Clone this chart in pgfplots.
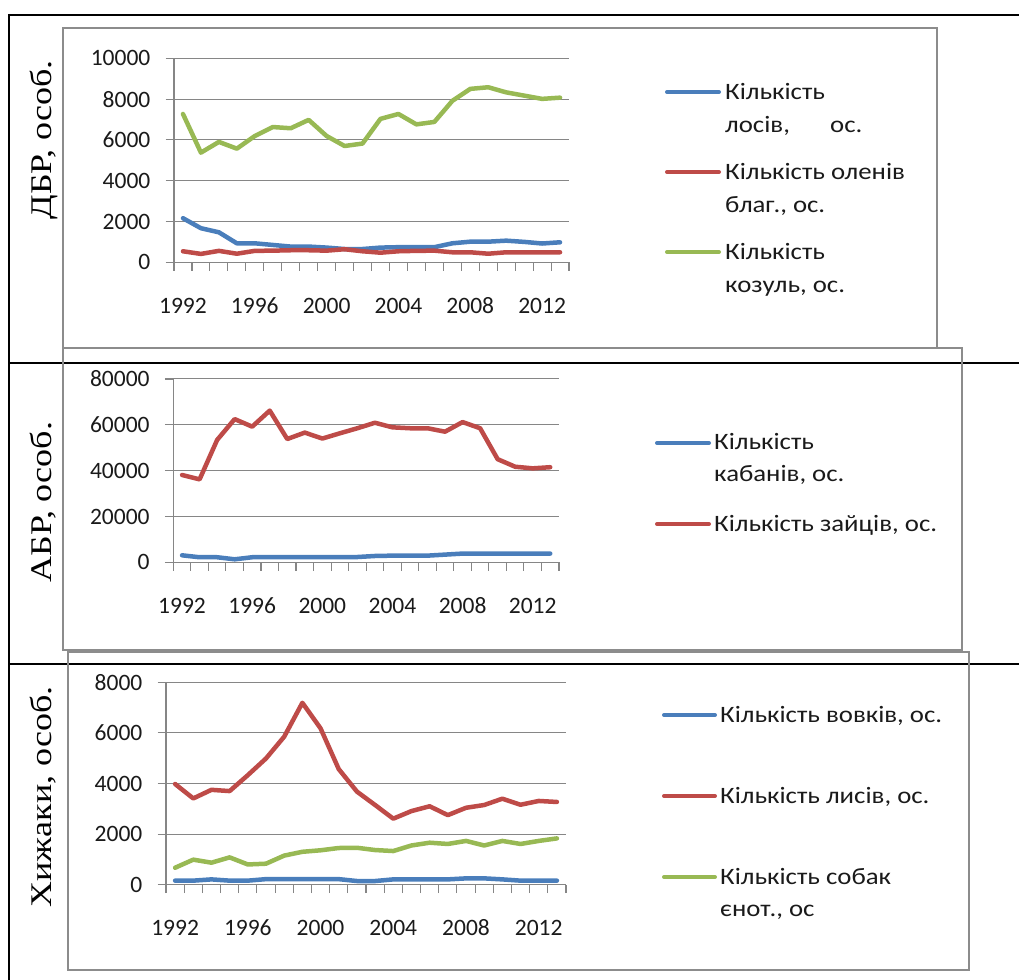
\documentclass[border=0pt]{standalone}
\usepackage{fontspec}
\setmainfont{Carlito}
\newfontfamily\serifcyr{Liberation Serif}
\usepackage{pgfplots}
\usepackage{pgfplotstable}
\pgfplotsset{compat=1.18}
\definecolor{cblue}{HTML}{4A7EBB}
\definecolor{cred}{HTML}{BE4B48}
\definecolor{cgreen}{HTML}{98B954}
\definecolor{axgray}{HTML}{868686}
\definecolor{frgray}{HTML}{8C8C8C}
\definecolor{txt}{HTML}{1A1A1A}

\pgfplotstableread{
year los olen koz
1992 2160 540 7270
1993 1670 410 5375
1994 1470 560 5900
1995 930 420 5570
1996 930 560 6190
1997 850 570 6630
1998 770 590 6570
1999 770 590 6980
2000 720 570 6190
2001 650 640 5700
2002 650 540 5820
2003 720 470 7030
2004 740 540 7270
2005 740 560 6760
2006 740 570 6880
2007 930 490 7910
2008 1010 490 8500
2009 1010 420 8580
2010 1060 490 8330
2011 1000 490 8170
2012 920 490 8010
2013 980 490 8070
}\tA

\pgfplotstableread{
year kab zay
1992 3050 38100
1993 2200 36200
1994 2200 53400
1995 1300 62500
1996 2200 59200
1997 2300 66200
1998 2300 53800
1999 2300 56600
2000 2300 54000
2001 2300 56300
2002 2300 58500
2003 2750 60900
2004 2900 58900
2005 2900 58500
2006 2900 58500
2007 3350 57000
2008 3800 61200
2009 3800 58500
2010 3800 45000
2011 3800 41700
2012 3800 41000
2013 3800 41500
}\tB

\pgfplotstableread{
year vov lys sob
1992 160 3980 670
1993 160 3410 990
1994 210 3750 870
1995 160 3700 1080
1996 160 4330 800
1997 220 4990 830
1998 220 5850 1150
1999 220 7190 1300
2000 220 6180 1360
2001 220 4570 1450
2002 145 3680 1460
2003 145 3150 1370
2004 210 2610 1330
2005 210 2910 1550
2006 210 3100 1660
2007 210 2750 1610
2008 250 3040 1730
2009 250 3150 1550
2010 210 3400 1730
2011 160 3160 1610
2012 160 3310 1730
2013 160 3270 1830
}\tC

\pgfplotsset{
  panel/.style={
    anchor=south west, scale only axis,
    xmin=1991.5, xmax=2013.5, ymin=0,
    axis x line*=bottom, axis y line*=left,
    axis line style={-, draw=axgray, line width=1.3bp},
    xtick={1992,1996,2000,2004,2008,2012},
    minor xtick={1991.5,1992.5,...,2013.5},
    major x tick style={draw=none},
    ymajorgrids, grid style={axgray, line width=1bp},
    tick align=outside, major tick length=8.5bp, minor tick length=8.5bp,
    tick style={axgray, line width=1.1bp},
    scaled y ticks=false,
    /pgf/number format/1000 sep={},
    /pgf/number format/assume math mode=true,
    tick label style={font=\fontsize{23.5bp}{28bp}\selectfont, text=txt},
    yticklabel style={anchor=east, inner sep=0pt, xshift=-15bp},
    xticklabel style={anchor=north, inner sep=0pt, text height=15bp, text depth=0pt, yshift=-27.5bp},
    clip=false,
  },
  dline/.style={line width=4.5bp, line join=round, line cap=round},
}

\newcommand\lgt[1]{\scalebox{1.14}[1]{\fontsize{23.5bp}{32.5bp}\selectfont\color{txt}#1}}
\newcommand\yl[1]{\scalebox{1.2}[1]{\fontsize{30bp}{30bp}\serifcyr #1}}

\begin{document}
\begin{tikzpicture}[x=1bp,y=1bp]
\useasboundingbox (0,0) rectangle (1019,980);
% table lines
\draw[black, line width=2.5bp] (9,965) -- (1019,965);
\draw[black, line width=2.5bp] (9,617) -- (1019,617);
\draw[black, line width=2.5bp] (9,316) -- (1019,316);
\draw[black, line width=2.5bp] (9,966) -- (9,0);
% y labels
\node[rotate=90, anchor=base, inner sep=0pt] at (51,840) {\yl{ДБР, особ.}};
\node[rotate=90, anchor=base, inner sep=0pt] at (51,478) {\yl{АБР, особ.}};
\node[rotate=90, anchor=base, inner sep=0pt] at (51,183) {\yl{Хижаки, особ.}};
% frames
\draw[frgray, line width=2bp] (63,952) rectangle (937,632);
\draw[frgray, line width=2bp] (63,632) rectangle (962,330);
\draw[frgray, line width=2bp] (68,328) rectangle (969,10);

% panel 1
\begin{axis}[panel, at={(174bp,717.7bp)}, width=395bp, height=204bp,
  ymax=10000, ytick={0,2000,...,10000}]
\addplot[cblue, dline] table[x=year, y=los]{\tA};
\addplot[cred, dline] table[x=year, y=olen]{\tA};
\addplot[cgreen, dline] table[x=year, y=koz]{\tA};
\end{axis}

% panel 2
\begin{axis}[panel, at={(173.3bp,417.7bp)}, width=385.7bp, height=183.3bp,
  ymax=80000, ytick={0,20000,...,80000}]
\addplot[cblue, dline] table[x=year, y=kab]{\tB};
\addplot[cred, dline] table[x=year, y=zay]{\tB};
\end{axis}

% panel 3
\begin{axis}[panel, at={(166bp,95.3bp)}, width=400bp, height=202.4bp,
  ymax=8000, ytick={0,2000,...,8000}]
\addplot[cblue, dline] table[x=year, y=vov]{\tC};
\addplot[cred, dline] table[x=year, y=lys]{\tC};
\addplot[cgreen, dline] table[x=year, y=sob]{\tC};
\end{axis}

% legends
\begin{scope}[every node/.style={anchor=base west, inner sep=0pt}]
\draw[cblue, line width=4bp, line cap=round] (667,888) -- (719,888);
\node at (725,880) {\lgt{Кількість}};
\node at (725,847) {\lgt{лосів,}};
\node at (830,847) {\lgt{ос.}};
\draw[cred, line width=4bp, line cap=round] (667,808) -- (719,808);
\node at (725,800) {\lgt{Кількість оленів}};
\node at (725,767) {\lgt{благ., ос.}};
\draw[cgreen, line width=4bp, line cap=round] (667,728) -- (719,728);
\node at (725,720) {\lgt{Кількість}};
\node at (725,687) {\lgt{козуль, ос.}};

\draw[cblue, line width=4bp, line cap=round] (657,537) -- (709,537);
\node at (714,530) {\lgt{Кількість}};
\node at (714,498) {\lgt{кабанів, ос.}};
\draw[cred, line width=4bp, line cap=round] (657,456) -- (709,456);
\node at (714,448) {\lgt{Кількість зайців, ос.}};

\draw[cblue, line width=4bp, line cap=round] (664,265) -- (715,265);
\node at (720,257) {\lgt{Кількість вовків, ос.}};
\draw[cred, line width=4bp, line cap=round] (664,184) -- (715,184);
\node at (720,176) {\lgt{Кількість лисів, ос.}};
\draw[cgreen, line width=4bp, line cap=round] (664,103) -- (715,103);
\node at (720,95) {\lgt{Кількість собак}};
\node at (720,63) {\lgt{єнот., ос}};
\end{scope}
\end{tikzpicture}
\end{document}
